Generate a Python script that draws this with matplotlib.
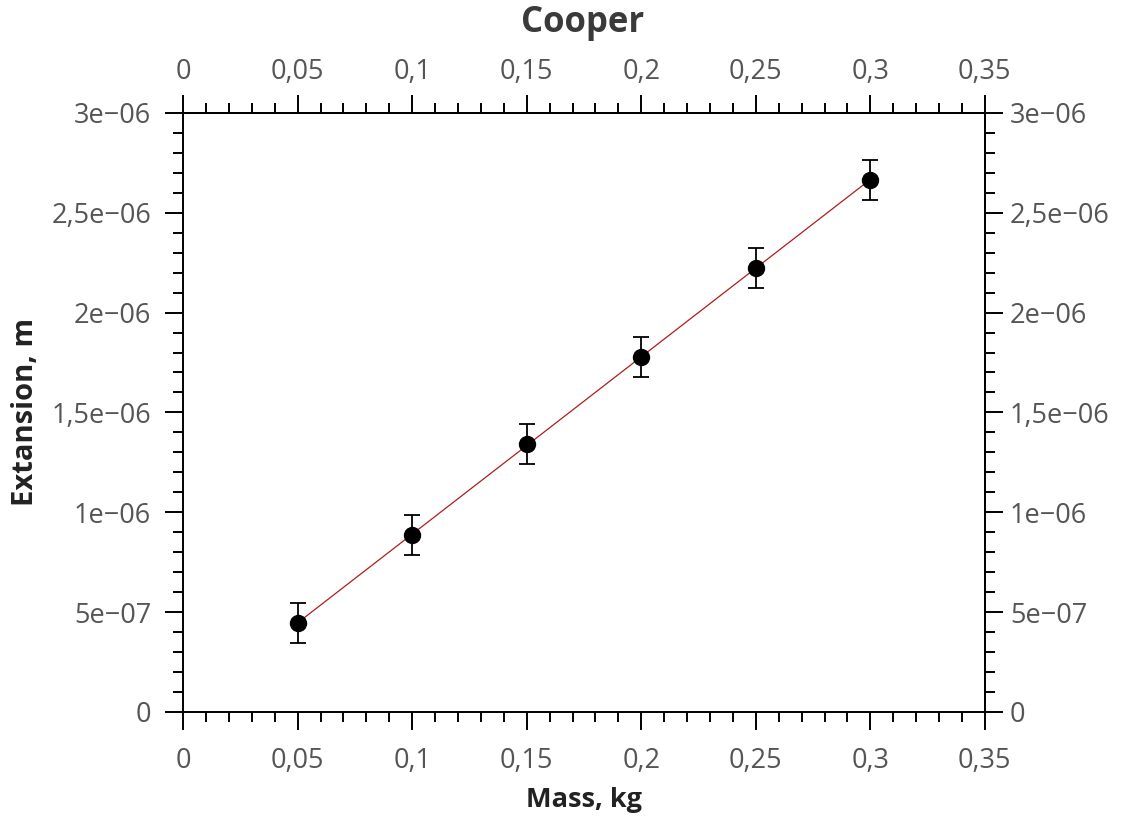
import numpy as np
import matplotlib
matplotlib.use('Agg')
import matplotlib.pyplot as plt
from matplotlib.ticker import FuncFormatter, MultipleLocator

# --------------------------------------------------------------------------------------
# Data

mass      = [0.05, 0.10, 0.15, 0.20, 0.25, 0.30]
extension = [4.45e-7, 8.86e-7, 1.342e-6, 1.778e-6, 2.223e-6, 2.664e-6]
ext_err   = [1.0e-7, 1.0e-7, 1.0e-7, 1.0e-7, 1.0e-7, 1.0e-7]

title  = 'Cooper'
xlabel = 'Mass, kg'
ylabel = 'Extansion, m'

# --------------------------------------------------------------------------------------
# Format helpers

def xfmt(v, pos):
    s = ('%.2f' % v).rstrip('0').rstrip('.')
    return s.replace('.', ',')

def yfmt(v, pos):
    if abs(v) < 1e-15:
        return '0'
    s = '%g' % v
    mant, exp = s.split('e')
    sign = '\u2212' if exp[0] == '-' else ''
    return mant.replace('.', ',') + 'e' + sign + exp[1:]

# --------------------------------------------------------------------------------------
# Chart

plt.rcParams['font.family'] = ['Open Sans', 'DejaVu Sans']

fig = plt.figure(figsize=(11.23, 8.18), dpi=100)
ax = fig.add_axes([0.163, 0.1296, 0.714, 0.7324])

tick_col = '#555555'
lab_col  = '#222222'
lsize    = 19.5

# fit line
k, b = np.polyfit(mass, extension, 1)
fit_x = np.array([mass[0], mass[-1]])
ax.plot(fit_x, k * fit_x + b, color='#b01c1c', linewidth=0.9, zorder=2)

ax.errorbar(mass, extension, yerr=ext_err, fmt='o', color='black', markersize=11.5,
            elinewidth=1.3, capsize=5.5, capthick=1.3, zorder=3)

ax.set_xlim(0, 0.35)
ax.set_ylim(0, 3e-6)

def setup_axis(axis, major, minor, fmt):
    axis.set_major_locator(MultipleLocator(major))
    axis.set_minor_locator(MultipleLocator(minor))
    axis.set_major_formatter(FuncFormatter(fmt))

setup_axis(ax.xaxis, 0.05, 0.01, xfmt)
setup_axis(ax.yaxis, 5e-7, 1e-7, yfmt)

# secondary axes for top / right so label pads can differ
sec_x = ax.secondary_xaxis('top')
sec_y = ax.secondary_yaxis('right')
setup_axis(sec_x.xaxis, 0.05, 0.01, xfmt)
setup_axis(sec_y.yaxis, 5e-7, 1e-7, yfmt)

for a in (ax, sec_x, sec_y):
    a.tick_params(which='both', direction='out', colors='black', labelcolor=tick_col,
                  labelsize=lsize, width=1.4)
    a.tick_params(which='major', length=13)
    a.tick_params(which='minor', length=7)
    for sp in a.spines.values():
        sp.set_linewidth(1.4)
    a.xaxis.offsetText.set_visible(False)
    a.yaxis.offsetText.set_visible(False)

ax.tick_params(axis='x', which='major', pad=12.5)
ax.tick_params(axis='y', which='major', pad=10)
sec_x.tick_params(which='major', pad=6)
sec_y.tick_params(which='major', pad=5)

ax.set_xlabel(xlabel, fontsize=19.5, fontweight='bold', color=lab_col, labelpad=8)
ax.set_ylabel(ylabel, fontsize=21, fontweight='bold', color=lab_col, labelpad=8)
fig.text(0.519, 0.972, title, fontsize=25, fontweight='bold', color='#3a3a3a',
         ha='center', va='center')

fig.savefig('out.png', dpi=100)
